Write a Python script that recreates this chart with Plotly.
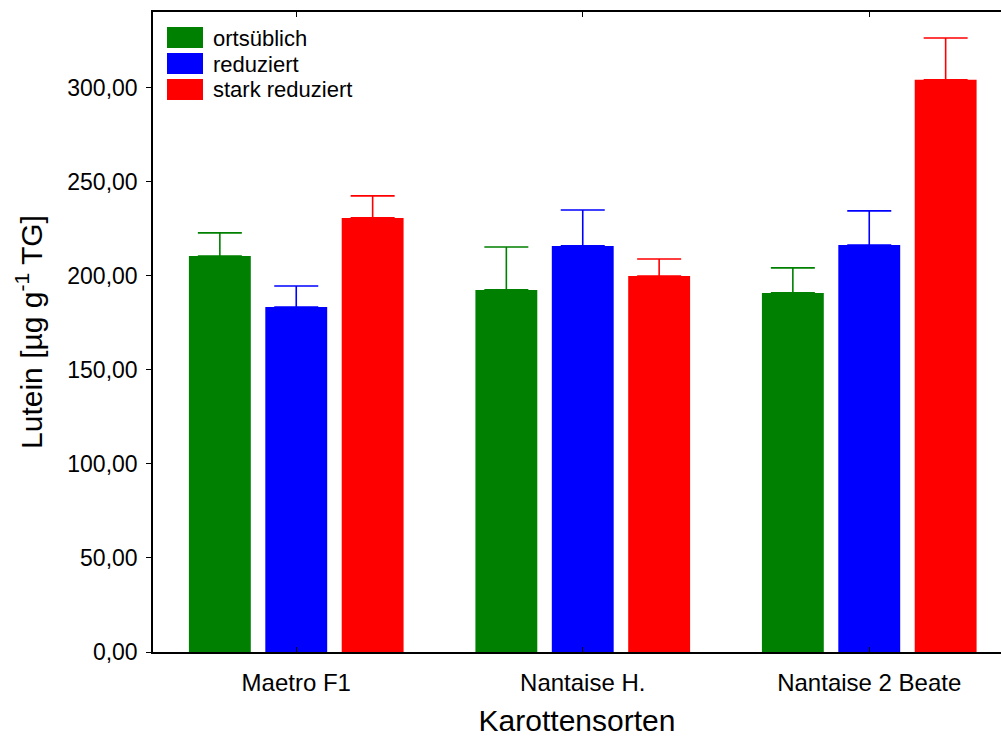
import plotly.graph_objects as go

sorten = ['Maetro F1', 'Nantaise H.', 'Nantaise 2 Beate']
gruppen = ['ortsüblich', 'reduziert', 'stark reduziert']
farben = ['#008000', '#0000FF', '#FF0000']

ortsueblich = [210.6, 192.6, 191.0]
reduziert = [183.5, 216.0, 216.5]
stark_reduziert = [230.9, 200.0, 304.3]

err_ortsueblich = [12.3, 22.8, 13.3]
err_reduziert = [11.2, 19.1, 18.1]
err_stark = [11.7, 9.0, 22.3]

werte = [ortsueblich, reduziert, stark_reduziert]
fehler = [err_ortsueblich, err_reduziert, err_stark]

W, H = 1001, 737
L, R, T, B = 153, 0, 12, 85
pw, ph = W - L - R, H - T - B

def px(x):
    return (x - L) / pw

def py(y):
    return (H - B - y) / ph

fig = go.Figure()

for name, vals, errs, col in zip(gruppen, werte, fehler, farben):
    fig.add_trace(go.Bar(
        x=sorten, y=vals, name=name,
        marker=dict(color=col, line=dict(width=0)),
        error_y=dict(type='data', symmetric=False, array=errs,
                     arrayminus=[0] * len(errs),
                     color=col, thickness=1.6, width=22),
        showlegend=False,
    ))

# legend drawn by hand to get the large swatches
for i, (name, col) in enumerate(zip(gruppen, farben)):
    y0 = 27 + i * 26
    fig.add_shape(type='rect', xref='paper', yref='paper',
                  x0=px(167), x1=px(203), y0=py(y0 + 21), y1=py(y0),
                  fillcolor=col, line=dict(width=0))
    fig.add_annotation(xref='paper', yref='paper', x=px(211), y=py(y0 + 11),
                       text=name, showarrow=False, xanchor='left', yanchor='middle',
                       font=dict(size=22, color='black'))

fig.update_layout(
    width=W, height=H,
    margin=dict(l=L, r=R, t=T, b=B),
    plot_bgcolor='white', paper_bgcolor='white',
    font=dict(family='Liberation Sans, Arial, sans-serif', color='black'),
    separators=',.',
    barmode='group', bargap=0.2, bargroupgap=0.19,
    xaxis=dict(
        range=[-0.5, -0.5 + pw / 286.5],
        showline=True, linecolor='black', linewidth=1.5,
        mirror='ticks', ticks='inside', ticklen=5, tickcolor='black',
        tickfont=dict(size=24), ticklabelstandoff=8,
        title=dict(text='Karottensorten', font=dict(size=30), standoff=16),
        showgrid=False,
    ),
    yaxis=dict(
        range=[0, 340.4],
        tickvals=[0, 50, 100, 150, 200, 250, 300], tickformat='.2f',
        showline=True, linecolor='black', linewidth=1.5,
        ticks='outside', ticklen=5, tickcolor='black',
        tickfont=dict(size=23), ticklabelstandoff=4,
        title=dict(text='Lutein [µg g<sup>-1</sup> TG]', font=dict(size=30), standoff=16),
        showgrid=False, zeroline=False,
    ),
)

fig.write_html('out.html', config={'displayModeBar': False},
               post_script="document.body.style.margin='0';")
